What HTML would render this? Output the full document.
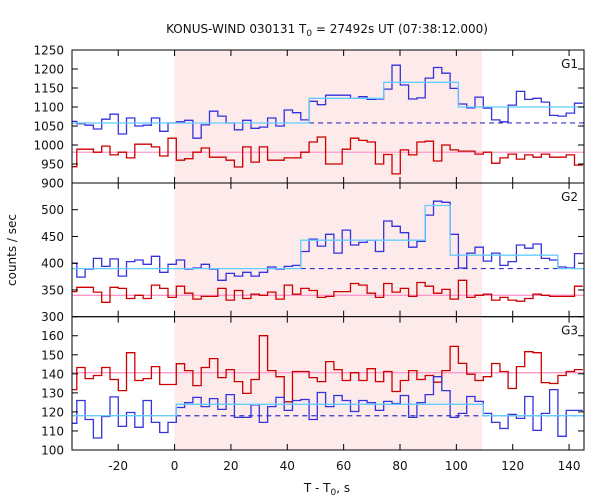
<!DOCTYPE html>
<html><head><meta charset="utf-8"><style>
body{margin:0;background:#fff}
svg{display:block;font-family:"DejaVu Sans","Liberation Sans",sans-serif;font-size:12px}
</style></head><body>
<svg id="chart" width="600" height="500" viewBox="0 0 600 500" xmlns="http://www.w3.org/2000/svg">
<text x="327" y="33" text-anchor="middle" fill="#111">KONUS-WIND 030131 T<tspan font-size="9" dy="3">0</tspan><tspan dy="-3"> = 27492s UT (07:38:12.000)</tspan></text>
<text x="327" y="492" text-anchor="middle" fill="#111">T - T<tspan font-size="9" dy="3">0</tspan><tspan dy="-3">, s</tspan></text>
<text transform="translate(16,250) rotate(-90)" text-anchor="middle" fill="#111">counts / sec</text>
<g id="plots"></g>
</svg>
<script>
const binWidth = 2.944;
const binStart0 = -37.65;
const shadeRange = [0, 109.1];
const xTicks = [-20, 0, 20, 40, 60, 80, 100, 120, 140];

const g1Blue = [1062,1056,1052,1042,1068,1081,1029,1071,1050,1052,1071,1036,1058,1061,1065,1018,1053,1089,1076,1058,1040,1065,1044,1047,1071,1050,1092,1085,1066,1115,1106,1131,1131,1131,1123,1127,1120,1121,1147,1210,1158,1121,1124,1176,1204,1189,1149,1108,1098,1126,1097,1066,1061,1105,1141,1120,1123,1113,1078,1076,1084,1110];
const g1Red = [943,989,989,981,997,974,981,966,1002,1002,995,971,1018,960,964,981,992,968,968,960,942,995,955,995,960,960,966,966,981,1008,1021,950,950,989,1018,1012,1008,950,975,924,987,974,1008,1010,958,1000,987,984,984,976,981,952,966,976,963,974,968,976,968,968,974,947];
const g1FitBreaks = [47.73, 74.2, 100.7];
const g1FitValues = [1058, 1123, 1165, 1100];
const g1Bkg = 1058, g1BkgStart = 47.73, g1Pink = 981;

const g2Blue = [400,374,389,409,394,408,376,403,406,398,413,383,398,406,389,391,398,389,368,381,376,383,376,383,393,389,394,396,422,445,432,454,419,462,434,439,443,422,479,469,457,430,441,490,516,514,454,391,419,430,404,419,396,403,434,428,436,409,406,393,391,418];
const g2Red = [347,355,355,346,327,355,353,334,340,334,359,353,336,357,344,333,338,338,353,331,349,334,342,340,346,333,359,342,353,349,336,338,347,347,362,359,344,336,362,346,353,338,364,357,344,351,333,368,336,340,342,331,336,331,329,334,342,340,338,338,338,357];
const g2FitBreaks = [44.8, 88.9, 97.8, 136.0];
const g2FitValues = [390, 443, 508, 415, 390];
const g2Bkg = 390, g2BkgStart = 44.8, g2Pink = 340;

const g3Blue = [114,126,116,106.3,117.6,127.9,112.4,119.7,111.9,126,114.5,109.2,114.5,122.3,124.9,127.6,122.8,127,121.3,129.1,117.1,117.1,123.7,114.5,122.8,127.6,120.8,126,126.5,116,130.2,122.8,128.6,126,120.2,126,124.9,120.8,125.5,124.4,128.6,117.1,124.9,129.1,138.5,131.2,117.1,119.2,128.1,125.5,119.2,114.5,111.3,118.7,116.6,128.1,110.3,119.2,131.7,107.2,120.8,120.8];
const g3Red = [131.7,143.3,137.5,139.1,143.3,137,131.2,151.1,136.5,137.5,143.8,134.4,134.4,145.3,141.7,133.8,143.3,148,138,142.2,135.9,129.7,137,160,141.7,138.5,125.3,141.2,141.2,138,135.9,146.4,142.2,136.5,140.6,136.5,142.7,135.9,141.2,130.7,136.5,141.7,137,139.1,135.6,141.7,154.4,145.5,139.8,136.5,138.5,145.4,141.2,132.3,143.8,151.6,151.1,135.4,134.9,139.1,141.2,142.2];
const g3FitBreaks = [0.62, 109.55];
const g3FitValues = [118, 124, 118];
const g3Bkg = 118, g3BkgStart = 0.62, g3Pink = 140.6;

const panels = [
 {name:'g1', label:'G1', top:50, bottom:183, min:900, max:1250, ticks:[900,950,1000,1050,1100,1150,1200,1250], blue:g1Blue, red:g1Red, fb:g1FitBreaks, fv:g1FitValues, bkg:g1Bkg, bkgStart:g1BkgStart, pink:g1Pink},
 {name:'g2', label:'G2', top:183, bottom:316.7, min:300, max:550, ticks:[300,350,400,450,500], blue:g2Blue, red:g2Red, fb:g2FitBreaks, fv:g2FitValues, bkg:g2Bkg, bkgStart:g2BkgStart, pink:g2Pink},
 {name:'g3', label:'G3', top:316.7, bottom:450, min:100, max:170, ticks:[100,110,120,130,140,150,160], blue:g3Blue, red:g3Red, fb:g3FitBreaks, fv:g3FitValues, bkg:g3Bkg, bkgStart:g3BkgStart, pink:g3Pink}
];

const X0 = 72, X1 = 584, XMIN = -36.4, XMAX = 145.3;
function xs(t){ return X0 + (t - XMIN) / (XMAX - XMIN) * (X1 - X0); }
const NS = 'http://www.w3.org/2000/svg';
const root = document.getElementById('plots');
function mk(tag, attrs, parent){ const e = document.createElementNS(NS, tag); for (const k in attrs) e.setAttribute(k, attrs[k]); (parent||root).appendChild(e); return e; }
function clampX(t){ return Math.max(XMIN, Math.min(XMAX, t)); }

function stepPath(vals, ys){
  let d = '';
  vals.forEach((v,k)=>{
    const a = xs(clampX(binStart0 + k*binWidth)), b = xs(clampX(binStart0 + (k+1)*binWidth));
    const y = ys(v).toFixed(1);
    d += (k===0 ? 'M' : 'L') + a.toFixed(1) + ',' + y + 'L' + b.toFixed(1) + ',' + y;
  });
  return d;
}
function fitPath(breaks, values, ys){
  const edges = [XMIN].concat(breaks).concat([XMAX]);
  let d = '';
  values.forEach((v,i)=>{
    const y = ys(v).toFixed(1);
    d += (i===0 ? 'M' : 'L') + xs(edges[i]).toFixed(1) + ',' + y + 'L' + xs(edges[i+1]).toFixed(1) + ',' + y;
  });
  return d;
}

panels.forEach(p=>{
  const ys = v => p.bottom - (v - p.min) / (p.max - p.min) * (p.bottom - p.top);
  const g = mk('g', {});
  
  
  const sh = mk('rect', {x:xs(shadeRange[0]), y:p.top, width:xs(shadeRange[1])-xs(shadeRange[0]), height:p.bottom-p.top, fill:'#fdeaea'}, g);
  
  
  const pk = mk('line', {x1:X0, x2:X1, y1:ys(p.pink), y2:ys(p.pink), stroke:'#ff99cc', 'stroke-width':1.3}, g);
  
  
  const rd = mk('path', {d:stepPath(p.red, ys), fill:'none', stroke:'#cc0000', 'stroke-width':1.3}, g);
  
  
  const bk = mk('line', {x1:xs(p.bkgStart), x2:X1, y1:ys(p.bkg), y2:ys(p.bkg), stroke:'#3333cc', 'stroke-width':1.2, 'stroke-dasharray':'5,4'}, g);
  
  
  const bl = mk('path', {d:stepPath(p.blue, ys), fill:'none', stroke:'#3333dd', 'stroke-width':1.3}, g);
  
  
  const ft = mk('path', {d:fitPath(p.fb, p.fv, ys), fill:'none', stroke:'#66ccff', 'stroke-width':1.3}, g);
  
  
  const fr = mk('rect', {x:X0, y:p.top, width:X1-X0, height:p.bottom-p.top, fill:'none', stroke:'#000', 'stroke-width':1}, g);
  
  
  p.ticks.forEach(v=>{
    const y = ys(v);
    mk('line', {x1:X0, x2:X0+6, y1:y, y2:y, stroke:'#000'}, g);
    mk('line', {x1:X1-6, x2:X1, y1:y, y2:y, stroke:'#000'}, g);
    const t = mk('text', {x:X0-8, y:y+4.5, 'text-anchor':'end', fill:'#111'}, g);
    t.textContent = v;
    
    
  });
  xTicks.forEach(v=>{
    const x = xs(v);
    mk('line', {x1:x, x2:x, y1:p.top, y2:p.top+6, stroke:'#000'}, g);
    mk('line', {x1:x, x2:x, y1:p.bottom-6, y2:p.bottom, stroke:'#000'}, g);
  });
  const lb = mk('text', {x:578, y:p.top+18, 'text-anchor':'end', fill:'#111'}, g);
  lb.textContent = p.label;
  
  
});
xTicks.forEach(v=>{
  const t = mk('text', {x:xs(v), y:470, 'text-anchor':'middle', fill:'#111'});
  t.textContent = v;
  
  
});
</script>
</body></html>
